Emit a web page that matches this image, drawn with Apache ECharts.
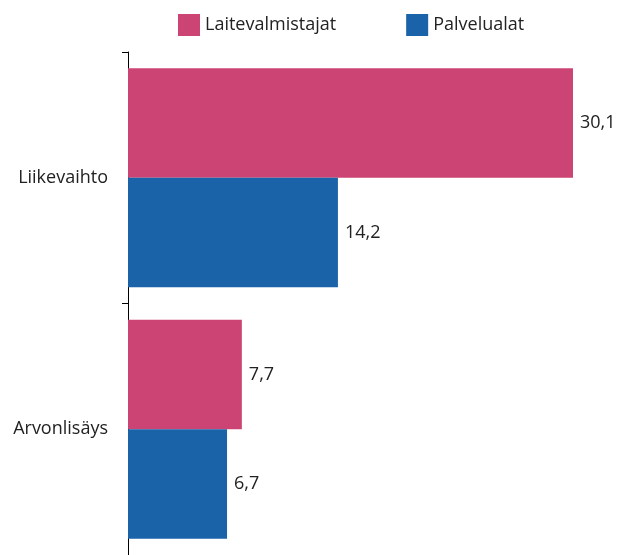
<!DOCTYPE html>
<html>
<head>
<meta charset="utf-8">
<script src="https://cdn.jsdelivr.net/npm/echarts@6/dist/echarts.min.js"></script>
<style>html,body{margin:0;padding:0;background:#fff}#c{width:628px;height:555px}</style>
</head>
<body>
<div id="c"></div>
<script>
const categories = ['Liikevaihto', 'Arvonlisäys'];
const seriesNames = ['Laitevalmistajat', 'Palvelualat'];
const laitevalmistajat = [30.1, 7.7];
const palvelualat = [14.2, 6.7];
const colors = ['#CB4473', '#1A63A8'];
const FONT = 'Open Sans';
const FS = 18;
const chart = echarts.init(document.getElementById('c'));
const fmt = p => String(p.value).replace('.', ',');
chart.setOption({
  animation: false,
  textStyle: {fontFamily: FONT},
  legend: {
    top: 9, left: 173, itemWidth: 22, itemHeight: 22, itemGap: 70,
    icon: 'rect',
    textStyle: {fontSize: FS, color: '#222', fontFamily: FONT},
    data: seriesNames
  },
  grid: {left: 128, right: 55, top: 52, bottom: -2, containLabel: false},
  xAxis: {type: 'value', min: 0, max: 30.1, show: false},
  yAxis: {
    type: 'category', data: categories, inverse: true,
    axisLine: {show: true, lineStyle: {color: '#000', width: 1}},
    axisTick: {show: true, length: 6, lineStyle: {color: '#000'}},
    axisLabel: {fontSize: FS, color: '#222', margin: 20, fontFamily: FONT}
  },
  series: [
    {name: seriesNames[0], type: 'bar', data: laitevalmistajat, barGap: '0%', barCategoryGap: '13%',
     itemStyle: {color: colors[0]},
     label: {show: true, position: 'right', distance: 7, fontSize: FS, color: '#222', formatter: fmt, fontFamily: FONT}},
    {name: seriesNames[1], type: 'bar', data: palvelualat, barGap: '0%', barCategoryGap: '13%',
     itemStyle: {color: colors[1]},
     label: {show: true, position: 'right', distance: 7, fontSize: FS, color: '#222', formatter: fmt, fontFamily: FONT}}
  ]
});
</script>
</body>
</html>
